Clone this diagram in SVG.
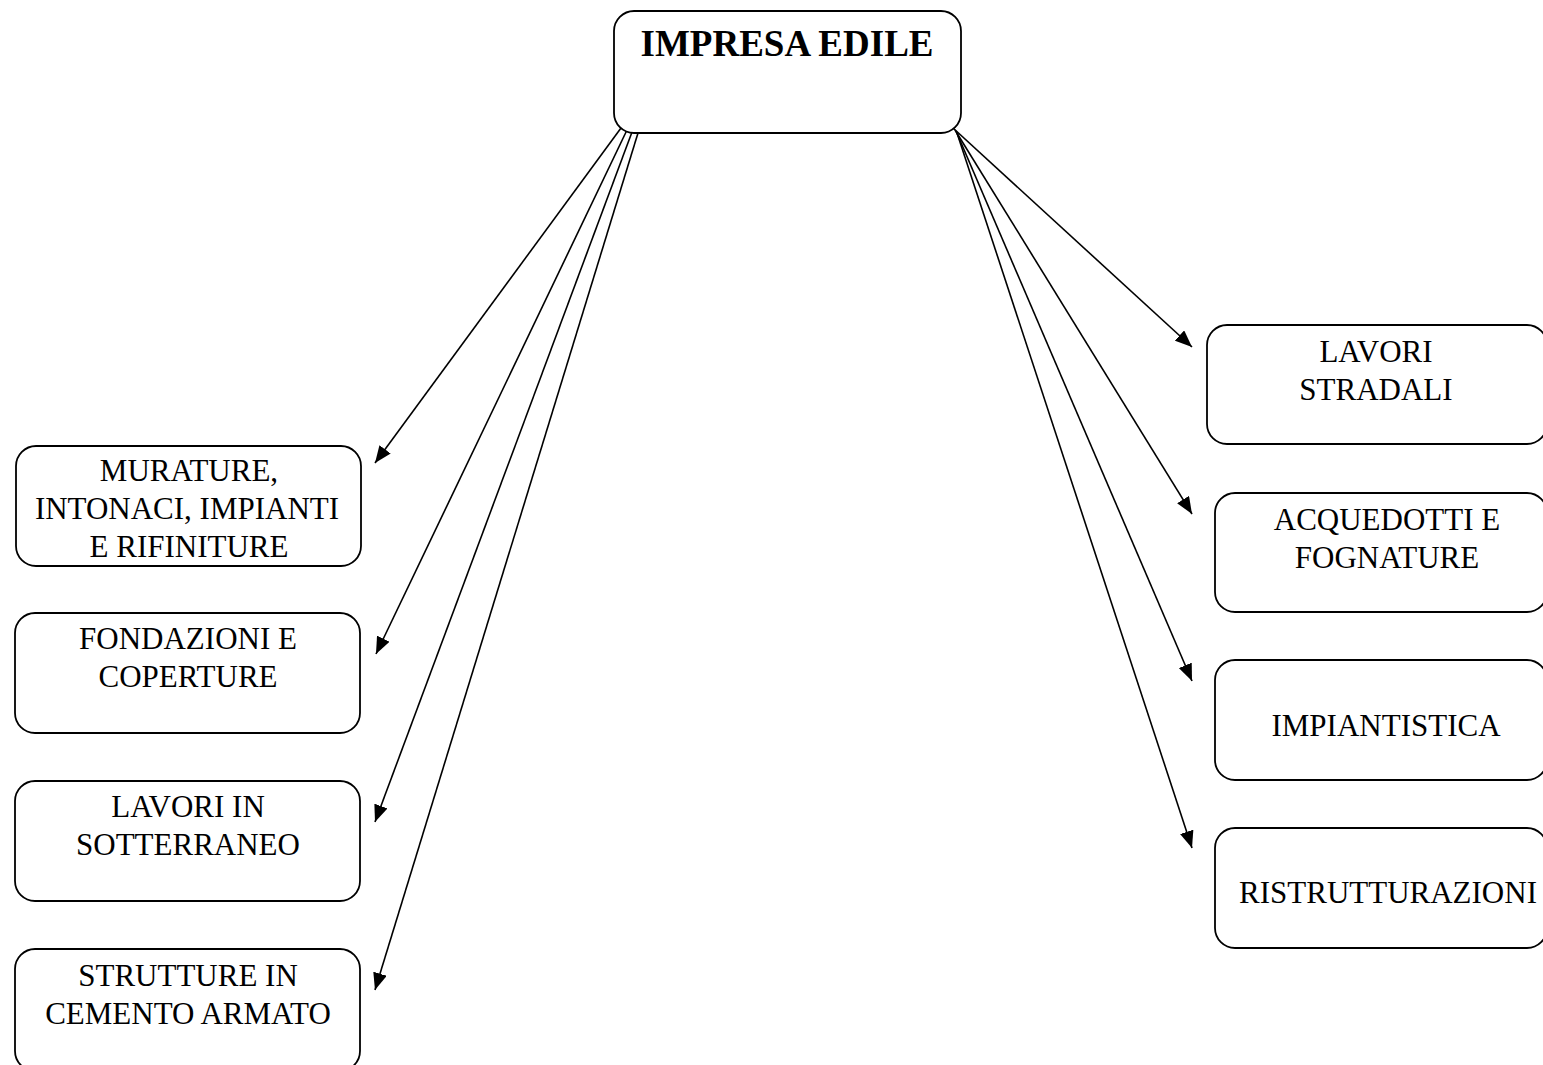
<svg xmlns="http://www.w3.org/2000/svg" width="1543" height="1065" viewBox="0 0 1543 1065">
  <style>
    .box { fill: #ffffff; stroke: #000000; stroke-width: 1.8; }
    .lbl { font-family: "Liberation Serif", "Times New Roman", serif; font-size: 31px; fill: #000000; text-anchor: middle; }
    .title { font-family: "Liberation Serif", "Times New Roman", serif; font-size: 37px; font-weight: bold; fill: #000000; text-anchor: middle; }
    .link { stroke: #000000; stroke-width: 1.6; fill: none; marker-end: url(#arrow); }
  </style>
  <defs>
    <marker id="arrow" markerUnits="userSpaceOnUse" markerWidth="18" markerHeight="14" viewBox="0 0 18 14" refX="17" refY="7" orient="auto">
      <path d="M0,0 L17,7 L0,14 Z" fill="#000000"/>
    </marker>
  </defs>
  <rect width="1543" height="1065" fill="#ffffff"/>

  <g id="connectors">
    <line class="link" x1="621" y1="128" x2="375" y2="463"/>
    <line class="link" x1="627" y1="130" x2="376" y2="654"/>
    <line class="link" x1="632" y1="132" x2="375" y2="822"/>
    <line class="link" x1="638" y1="133" x2="375" y2="990"/>
    <line class="link" x1="953" y1="128" x2="1192" y2="347"/>
    <line class="link" x1="955" y1="130" x2="1192" y2="514"/>
    <line class="link" x1="956" y1="131" x2="1192" y2="681"/>
    <line class="link" x1="957" y1="133" x2="1192" y2="848"/>
  </g>

  <g id="impresa-edile">
    <rect class="box" x="614" y="11" width="347" height="122" rx="20"/>
    <text class="title" x="787" y="56">IMPRESA EDILE</text>
  </g>

  <g id="murature">
    <rect class="box" x="16" y="446" width="345" height="120" rx="20"/>
    <text class="lbl" x="189" y="481">MURATURE,</text>
    <text class="lbl" x="187" y="519">INTONACI, IMPIANTI</text>
    <text class="lbl" x="189" y="557">E RIFINITURE</text>
  </g>

  <g id="fondazioni">
    <rect class="box" x="15" y="613" width="345" height="120" rx="20"/>
    <text class="lbl" x="188" y="649">FONDAZIONI E</text>
    <text class="lbl" x="188" y="687">COPERTURE</text>
  </g>

  <g id="sotterraneo">
    <rect class="box" x="15" y="781" width="345" height="120" rx="20"/>
    <text class="lbl" x="188" y="817">LAVORI IN</text>
    <text class="lbl" x="188" y="855">SOTTERRANEO</text>
  </g>

  <g id="cemento-armato">
    <rect class="box" x="15" y="949" width="345" height="122" rx="20"/>
    <text class="lbl" x="188" y="986">STRUTTURE IN</text>
    <text class="lbl" x="188" y="1024">CEMENTO ARMATO</text>
  </g>

  <g id="stradali">
    <rect class="box" x="1207" y="325" width="340" height="119" rx="20"/>
    <text class="lbl" x="1376" y="362">LAVORI</text>
    <text class="lbl" x="1376" y="400">STRADALI</text>
  </g>

  <g id="acquedotti">
    <rect class="box" x="1215" y="493" width="332" height="119" rx="20"/>
    <text class="lbl" x="1387" y="530">ACQUEDOTTI E</text>
    <text class="lbl" x="1387" y="568">FOGNATURE</text>
  </g>

  <g id="impiantistica">
    <rect class="box" x="1215" y="660" width="332" height="120" rx="20"/>
    <text class="lbl" x="1386" y="736">IMPIANTISTICA</text>
  </g>

  <g id="ristrutturazioni">
    <rect class="box" x="1215" y="828" width="332" height="120" rx="20"/>
    <text class="lbl" x="1388" y="903">RISTRUTTURAZIONI</text>
  </g>
</svg>
